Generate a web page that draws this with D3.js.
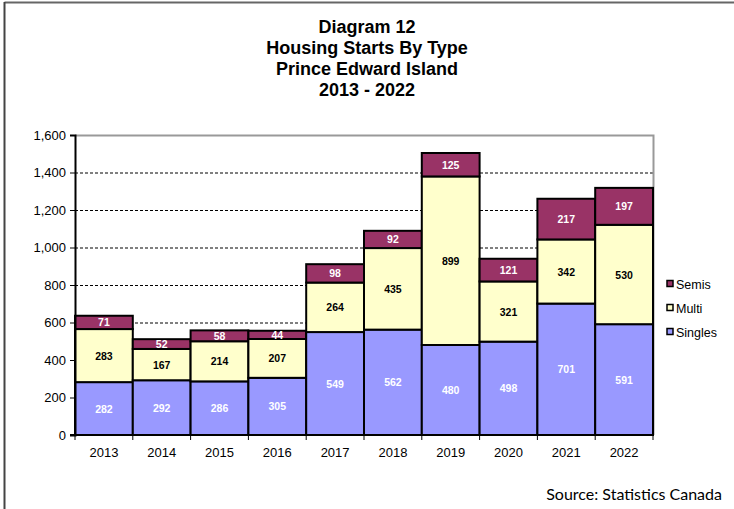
<!DOCTYPE html>
<html>
<head>
<meta charset="utf-8">
<script src="https://cdn.jsdelivr.net/npm/d3@7"></script>
<style>
  body { margin: 0; background: #fff; }
  svg { display: block; font-family: "Liberation Sans", Arial, sans-serif; }
</style>
</head>
<body>
<svg id="chart" width="734" height="509"></svg>
<script>
// === Data ===
const years   = ['2013', '2014', '2015', '2016', '2017', '2018', '2019', '2020', '2021', '2022'];
const singles = [282, 292, 286, 305, 549, 562, 480, 498, 701, 591];
const multi   = [283, 167, 214, 207, 264, 435, 899, 321, 342, 530];
const semis   = [71, 52, 58, 44, 98, 92, 125, 121, 217, 197];
const yTicks  = [0, 200, 400, 600, 800, 1000, 1200, 1400, 1600];
const titleLines = ['Diagram 12', 'Housing Starts By Type', 'Prince Edward Island', '2013 - 2022'];

// series order bottom -> top
const series = [
  { key: 'Singles', values: singles, fill: '#9999FF', label: '#fff' },
  { key: 'Multi',   values: multi,   fill: '#FFFFCC', label: '#000' },
  { key: 'Semis',   values: semis,   fill: '#993366', label: '#fff' }
];

const svg = d3.select('#chart');
const FONT = '"Liberation Sans", Arial, sans-serif';

// outer frame (only top/left visible in reference)
svg.append('line').attr('x1', 4.5).attr('y1', 2.5).attr('x2', 734).attr('y2', 2.5)
  .attr('stroke', '#666').attr('stroke-width', 2);
svg.append('line').attr('x1', 4.5).attr('y1', 2).attr('x2', 4.5).attr('y2', 509)
  .attr('stroke', '#444').attr('stroke-width', 2);

// --- Title ---
svg.append('g').selectAll('text')
  .data(titleLines)
  .join('text')
  .attr('x', 367)
  .attr('y', (d, i) => 33 + i * 21)
  .attr('text-anchor', 'middle')
  .attr('font-size', 18)
  .attr('font-weight', 'bold')
  .text(d => d);

// --- Scales ---
const plot = { left: 75, right: 653, top: 135, bottom: 435 };
const x = d3.scaleBand().domain(years).range([plot.left, plot.right]).padding(0);
const y = d3.scaleLinear().domain([0, 1600]).range([plot.bottom, plot.top]);

// gridlines
svg.append('g').selectAll('line')
  .data(yTicks.filter(t => t > 0 && t < 1600))
  .join('line')
  .attr('x1', plot.left).attr('x2', plot.right)
  .attr('y1', d => y(d) + 0.5).attr('y2', d => y(d) + 0.5)
  .attr('stroke', '#000').attr('stroke-dasharray', '3,2').attr('stroke-width', 1);

// plot border top/right
svg.append('path')
  .attr('d', `M${plot.left},${plot.top + 0.5}H${plot.right + 0.5}V${plot.bottom}`)
  .attr('fill', 'none').attr('stroke', '#999').attr('stroke-width', 2);

// --- Stacked bars ---
const stacked = years.map((yr, i) => {
  let acc = 0;
  return series.map(s => {
    const y0 = acc;
    acc += s.values[i];
    return { year: yr, key: s.key, y0, y1: acc, v: s.values[i], fill: s.fill, label: s.label };
  });
}).flat();

const bars = svg.append('g');
bars.selectAll('rect')
  .data(stacked)
  .join('rect')
  .attr('x', d => x(d.year))
  .attr('width', x.bandwidth())
  .attr('y', d => y(d.y1))
  .attr('height', d => y(d.y0) - y(d.y1))
  .attr('fill', d => d.fill)
  .attr('stroke', '#000')
  .attr('stroke-width', 2);

bars.selectAll('text')
  .data(stacked)
  .join('text')
  .attr('x', d => x(d.year) + x.bandwidth() / 2)
  .attr('y', d => (y(d.y0) + y(d.y1)) / 2 + 4)
  .attr('text-anchor', 'middle')
  .attr('font-size', 10.5)
  .attr('font-weight', 'bold')
  .attr('fill', d => d.label)
  .text(d => d.v);

// --- Axes ---
const yAxis = d3.axisLeft(y).tickValues(yTicks).tickSize(5).tickPadding(4).tickFormat(d3.format(','));
svg.append('g')
  .attr('transform', `translate(${plot.left},0)`)
  .call(yAxis)
  .call(g => g.selectAll('text').attr('font-size', 13).attr('fill', '#000').attr('font-family', FONT))
  .call(g => g.select('.domain').attr('stroke', '#000').attr('stroke-width', 2))
  .call(g => g.selectAll('.tick line').attr('stroke', '#000'));

// x axis baseline with ticks between categories
const xAxisG = svg.append('g');
xAxisG.append('line')
  .attr('x1', plot.left - 5).attr('x2', plot.right)
  .attr('y1', plot.bottom).attr('y2', plot.bottom)
  .attr('stroke', '#000').attr('stroke-width', 2);
xAxisG.selectAll('line.tk')
  .data(years.map(d => x(d)).concat([plot.right]))
  .join('line')
  .attr('class', 'tk')
  .attr('x1', d => d).attr('x2', d => d)
  .attr('y1', plot.bottom).attr('y2', plot.bottom + 5)
  .attr('stroke', '#000');
xAxisG.selectAll('text')
  .data(years)
  .join('text')
  .attr('x', d => x(d) + x.bandwidth() / 2)
  .attr('y', 457)
  .attr('text-anchor', 'middle')
  .attr('font-size', 13)
  .text(d => d);

// --- Legend ---
const legend = svg.append('g');
const legendItems = series.slice().reverse();
legendItems.forEach((s, i) => {
  const ly = 284 + i * 24;
  legend.append('rect')
    .attr('x', 667).attr('y', ly - 3.5)
    .attr('width', 6).attr('height', 6)
    .attr('fill', s.fill).attr('stroke', '#000').attr('stroke-width', 1.5);
  legend.append('text')
    .attr('x', 676).attr('y', ly + 4.5)
    .attr('font-size', 12.5)
    .text(s.key);
});

// --- Source ---
svg.append('text')
  .attr('x', 722).attr('y', 500)
  .attr('text-anchor', 'end')
  .attr('font-family', 'Lato, "Open Sans", sans-serif')
  .attr('font-size', 16)
  .text('Source: Statistics Canada');
</script>
</body>
</html>
